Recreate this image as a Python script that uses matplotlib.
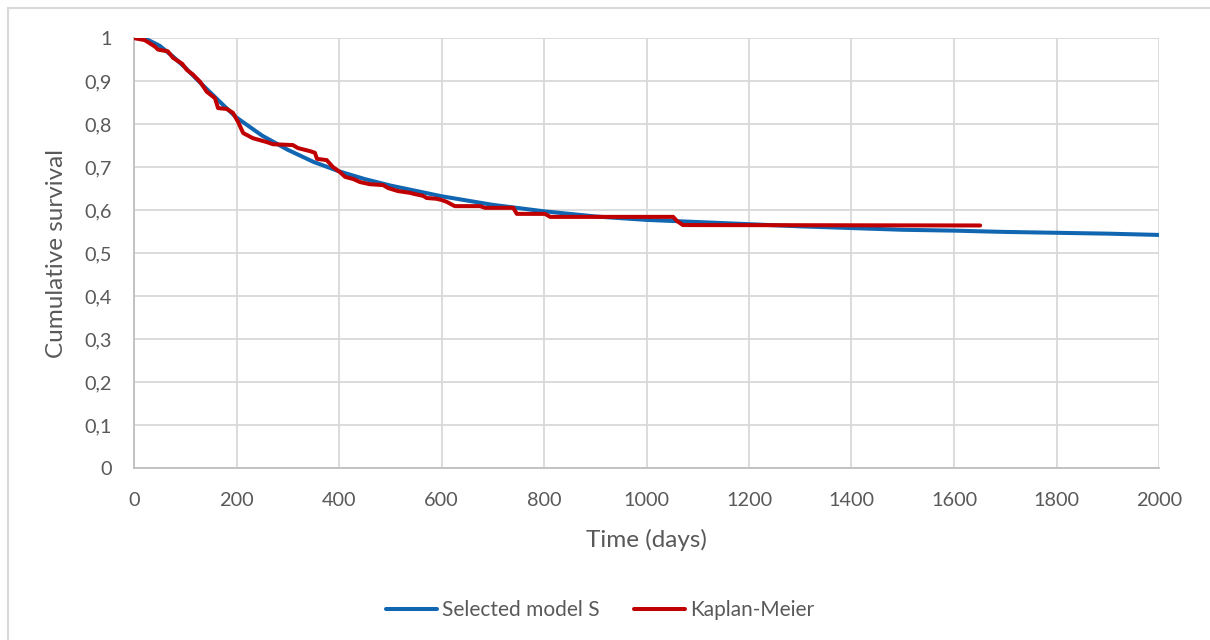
import matplotlib
matplotlib.use("Agg")
import matplotlib.pyplot as plt
from matplotlib.ticker import FuncFormatter
from matplotlib.patches import Rectangle

# ---- data ----
model_t = [0, 25, 50, 75, 100, 125, 150, 175, 200, 250, 300, 350, 400, 450, 500,
           600, 700, 800, 900, 1000, 1100, 1200, 1300, 1400, 1500, 1600, 1700,
           1800, 1900, 2000]
model_s = [1.0, 0.997, 0.982, 0.958, 0.931, 0.901, 0.872, 0.843, 0.815, 0.773,
           0.740, 0.712, 0.690, 0.672, 0.657, 0.632, 0.612, 0.597, 0.585, 0.577,
           0.572, 0.567, 0.562, 0.558, 0.554, 0.552, 0.549, 0.547, 0.545, 0.542]

km_t = [0, 21, 41, 47, 66, 76, 94, 103, 115, 129, 142, 158, 164, 181, 193, 203,
        213, 232, 259, 271, 310, 320, 343, 353, 357, 376, 388, 402, 412, 428, 441,
        460, 486, 496, 515, 538, 548, 564, 571, 591, 601, 610, 626, 675, 685, 740,
        747, 802, 812, 1052, 1059, 1071, 1651]
km_s = [1.0, 0.995, 0.98, 0.973, 0.969, 0.954, 0.94, 0.926, 0.915, 0.898, 0.875,
        0.86, 0.837, 0.835, 0.826, 0.805, 0.779, 0.767, 0.758, 0.753, 0.751, 0.744,
        0.737, 0.733, 0.719, 0.716, 0.70, 0.688, 0.677, 0.672, 0.665, 0.66, 0.658,
        0.651, 0.644, 0.64, 0.637, 0.633, 0.628, 0.626, 0.623, 0.619, 0.609, 0.609,
        0.605, 0.605, 0.591, 0.591, 0.584, 0.584, 0.575, 0.565, 0.564]

x_ticks = [0, 200, 400, 600, 800, 1000, 1200, 1400, 1600, 1800, 2000]
y_ticks = [0, 0.1, 0.2, 0.3, 0.4, 0.5, 0.6, 0.7, 0.8, 0.9, 1.0]

series_names = ["Selected model S", "Kaplan-Meier"]
x_label = "Time (days)"
y_label = "Cumulative survival"

# ---- style ----
plt.rcParams['font.family'] = ['Lato', 'DejaVu Sans']
txt_color = "#595959"
grid_color = "#D9D9D9"
blue = "#1066B1"
red = "#C00000"

fig = plt.figure(figsize=(12.1, 6.4), dpi=100)
fig.patches.append(Rectangle((8/1210, -0.1), 1.2, 1 - 8/640 + 0.1,
                             transform=fig.transFigure, fill=False,
                             edgecolor="#D9D9D9", linewidth=1.5))
ax = fig.add_axes([134/1210, 1 - 468/640, (1159-134)/1210, (468-38)/640])

ax.plot(model_t, model_s, color=blue, lw=2.9, solid_capstyle='round',
        label=series_names[0], zorder=3)
ax.plot(km_t, km_s, color=red, lw=2.9, solid_capstyle='round',
        solid_joinstyle='round', label=series_names[1], zorder=4)

ax.set_xlim(0, 2000)
ax.set_ylim(0, 1)
ax.set_xticks(x_ticks)
ax.set_yticks(y_ticks)
ax.yaxis.set_major_formatter(FuncFormatter(lambda v, p: ("%g" % round(v, 2)).replace('.', ',')))
ax.xaxis.set_major_formatter(FuncFormatter(lambda v, p: "%d" % v))
ax.grid(True, color=grid_color, lw=1.3)
ax.set_axisbelow(True)
for s in ["top", "right"]:
    ax.spines[s].set_visible(False)
for s in ["left", "bottom"]:
    ax.spines[s].set_color("#BFBFBF")
    ax.spines[s].set_linewidth(1.3)
ax.tick_params(length=0, labelsize=14.3, colors=txt_color)
ax.tick_params(axis='y', pad=16)
ax.tick_params(axis='x', pad=17)

fig.text(646/1210, 1 - 540/640, x_label, ha='center', va='center',
         fontsize=17.5, color=txt_color)
fig.text(57/1210, 1 - 253/640, y_label, ha='center', va='center',
         rotation=90, fontsize=17.5, color=txt_color)

leg = fig.legend(loc='center', bbox_to_anchor=(600/1210, 1 - 610/640), ncol=2,
                 frameon=False, fontsize=15, handlelength=2.45, handletextpad=0.25,
                 columnspacing=1.63)
for t in leg.get_texts():
    t.set_color(txt_color)

fig.savefig("out.png", dpi=100)
